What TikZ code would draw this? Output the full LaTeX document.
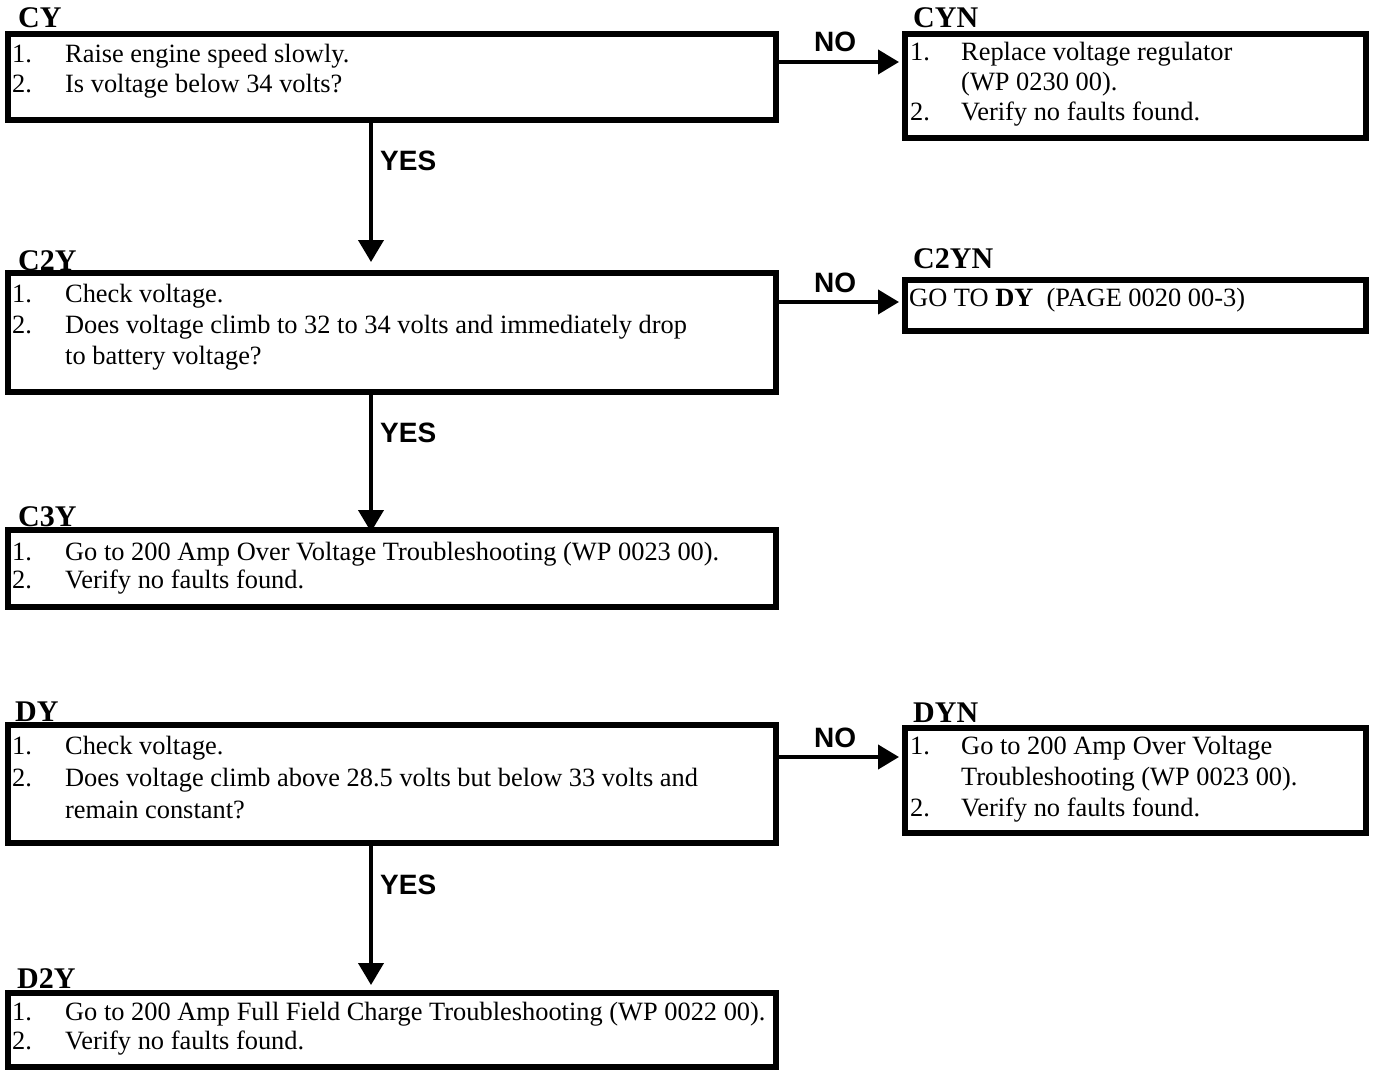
\documentclass[tikz,border=0pt]{standalone}
\usepackage{fontspec}
\setmainfont{Liberation Serif}
\newfontfamily\arialfont{Liberation Sans}
\usetikzlibrary{arrows.meta}
\newcommand{\rowsize}[1]{\fontsize{26.4}{#1}\selectfont}
\begin{document}
\begin{tikzpicture}[x=1pt,y=1pt,
  box/.style={draw, line width=6pt, inner sep=0pt, fill=none},
  lbl/.style={anchor=base west, inner sep=0pt, font=\bfseries\fontsize{30}{32}\selectfont},
  yn/.style={anchor=base west, inner sep=0pt, font=\arialfont\bfseries\fontsize{28}{30}\selectfont},
  txt/.style={anchor=base west, inner sep=0pt},
  harr/.style={line width=4pt, -{Triangle[length=21pt,width=24pt]}, shorten >=3pt},
  varr/.style={line width=4pt, -{Triangle[length=22pt,width=25pt]}}
]
\useasboundingbox (0,0) rectangle (1375,-1070);

% ---------- boxes ----------
\node[box, minimum width=768pt, minimum height=86pt]   (cy)   at (392,-77) {};
\node[box, minimum width=461pt, minimum height=103.5pt] (cyn) at (1135.5,-85.75) {};
\node[box, minimum width=768pt, minimum height=119pt]  (c2y)  at (392,-332.5) {};
\node[box, minimum width=461pt, minimum height=51pt]   (c2yn) at (1135.5,-305.5) {};
\node[box, minimum width=768pt, minimum height=77pt]   (c3y)  at (392,-568.5) {};
\node[box, minimum width=768pt, minimum height=118pt]  (dy)   at (392,-784) {};
\node[box, minimum width=461pt, minimum height=105pt]  (dyn)  at (1135.5,-780.5) {};
\node[box, minimum width=768pt, minimum height=74pt]   (d2y)  at (392,-1030) {};

% ---------- box labels ----------
\node[lbl] (cyl)   at (18,-28)  {CY};
\node[lbl] (cynl)  at (913,-28) {CYN};
\node[lbl] (c2yl)  at (18,-270) {C2Y};
\node[lbl] (c2ynl) at (913,-268) {C2YN};
\node[lbl] (c3yl)  at (18,-526) {C3Y};
\node[lbl] (dyl)   at (15,-721) {DY};
\node[lbl] (dynl)  at (913,-722) {DYN};
\node[lbl] (d2yl)  at (17,-988) {D2Y};

% ---------- box texts ----------
\node[txt] (cyt) at (12,-63) {\rowsize{30}\begin{tabular}[t]{@{}p{53pt}@{}l@{}}
1. & Raise engine speed slowly.\\
2. & Is voltage below 34 volts?\end{tabular}};
\node[txt] (cynt) at (910,-61) {\rowsize{30}\begin{tabular}[t]{@{}p{51pt}@{}l@{}}
1. & Replace voltage regulator\\
   & (WP 0230 00).\\
2. & Verify no faults found.\end{tabular}};
\node[txt] (c2yt) at (12,-302) {\rowsize{31}\begin{tabular}[t]{@{}p{53pt}@{}l@{}}
1. & Check voltage.\\
2. & Does voltage climb to 32 to 34 volts and immediately drop\\
   & to battery voltage?\end{tabular}};
\node[txt] (c2ynt) at (909,-306) {\rowsize{30}GO TO \textbf{DY}\ \ (PAGE 0020 00-3)};
\node[txt] (c3yt) at (12,-560) {\rowsize{28}\begin{tabular}[t]{@{}p{53pt}@{}l@{}}
1. & Go to 200 Amp Over Voltage Troubleshooting (WP 0023 00).\\
2. & Verify no faults found.\end{tabular}};
\node[txt] (dyt) at (12,-754) {\rowsize{32}\begin{tabular}[t]{@{}p{53pt}@{}l@{}}
1. & Check voltage.\\
2. & Does voltage climb above 28.5 volts but below 33 volts and\\
   & remain constant?\end{tabular}};
\node[txt] (dynt) at (910,-754) {\rowsize{31}\begin{tabular}[t]{@{}p{51pt}@{}l@{}}
1. & Go to 200 Amp Over Voltage\\
   & Troubleshooting (WP 0023 00).\\
2. & Verify no faults found.\end{tabular}};
\node[txt] (d2yt) at (12,-1020) {\rowsize{29.5}\begin{tabular}[t]{@{}p{53pt}@{}l@{}}
1. & Go to 200 Amp Full Field Charge Troubleshooting (WP 0022 00).\\
2. & Verify no faults found.\end{tabular}};

% ---------- connectors ----------
\coordinate (no1) at (0,-62);
\coordinate (no2) at (0,-302);
\coordinate (no3) at (0,-757);
\coordinate (ax)  at (371,0);

\draw[harr] (cy.east |- no1)  -- (cyn.west |- no1);
\draw[harr] (c2y.east |- no2) -- (c2yn.west |- no2);
\draw[harr] (dy.east |- no3)  -- (dyn.west |- no3);

\draw[varr, shorten >=8pt]  (cy.south -| ax)  -- (c2y.north -| ax);
\draw[varr, shorten >=-5pt] (c2y.south -| ax) -- (c3y.north -| ax);
\draw[varr, shorten >=5pt]  (dy.south -| ax)  -- (d2y.north -| ax);

% ---------- YES / NO labels ----------
\node[yn] (no1l) at (814,-52)  {NO};
\node[yn] (no2l) at (814,-292) {NO};
\node[yn] (no3l) at (814,-747) {NO};
\node[yn] (y1l)  at (380,-170) {YES};
\node[yn] (y2l)  at (380,-442) {YES};
\node[yn] (y3l)  at (380,-894) {YES};
\end{tikzpicture}
\end{document}
